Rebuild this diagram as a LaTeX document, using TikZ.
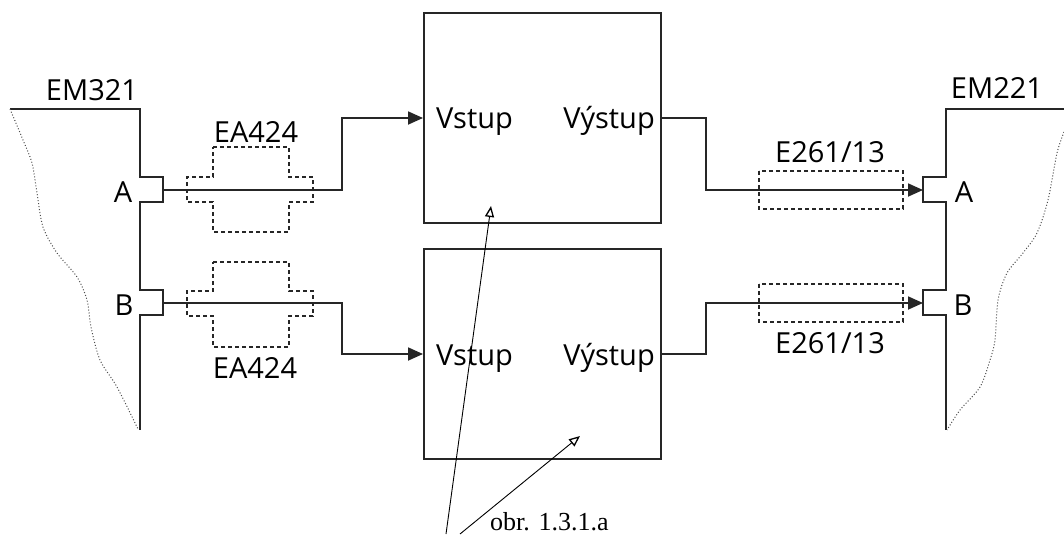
\documentclass[tikz,border=0pt]{standalone}
\usepackage{fontspec}
\setmainfont{Open Sans}
\newfontfamily\captionserif{Liberation Serif}
\usetikzlibrary{arrows.meta}
\tikzset{
  wire/.style={line width=1.8pt, black!85},
  sig/.style={line width=1.8pt, black!85, -{Triangle[length=15pt,width=13pt]}},
  cable/.style={line width=1.5pt, dash pattern=on 4pt off 3pt, black!85},
  edge/.style={dotted, line width=1pt, black!70},
  blockbox/.style={draw, line width=2pt, black!85, inner sep=0pt, minimum width=237pt, minimum height=210pt},
  lbl/.style={font=\fontsize{29}{31}\selectfont, inner sep=0pt, anchor=base},
  pointer/.style={line width=0.9pt, -{Triangle[open,length=11pt,width=9pt,line width=1.3pt]}}
}
\begin{document}
\begin{tikzpicture}[x=1pt,y=-1pt]
\useasboundingbox (0,0) rectangle (1064,535);
% blocks
\node[blockbox] (box1) at (542.5,118) {};
\node[blockbox] (box2) at (542.5,354) {};
\node[lbl, anchor=base west] (in1) at (436,128) {Vstup};
\node[lbl, anchor=base east] (out1) at (655,128) {Výstup};
\node[lbl, anchor=base west] (in2) at (436,365) {Vstup};
\node[lbl, anchor=base east] (out2) at (655,365) {Výstup};
% left device
\draw[wire] (10,109) -- (140,109) -- (140,177) -- (163,177) -- (163,202) -- (140,202)
  -- (140,290) -- (163,290) -- (163,315) -- (140,315) -- (140,430);
\draw[edge] plot[smooth] coordinates {(10,109) (23,140) (32,163) (37,193) (43,227) (57,253) (77,277) (87,300) (91,327) (100,360) (117,387) (138,429)};
\coordinate (LA) at (163,190);
\coordinate (LB) at (163,303);
\node[lbl] (em321) at (92,100) {EM321};
\node[lbl] (la) at (123,202) {A};
\node[lbl] (lb) at (124,315) {B};
% right device
\draw[wire] (1064,109) -- (946,109) -- (946,177) -- (923,177) -- (923,202) -- (946,202)
  -- (946,290) -- (923,290) -- (923,315) -- (946,315) -- (946,430);
\draw[edge] plot[smooth] coordinates {(1064,132) (1057,153) (1048,200) (1037,233) (1023,253) (1007,273) (998,300) (995,340) (990,360) (980,387) (960,410) (947,430)};
\coordinate (RA) at (923,190);
\coordinate (RB) at (923,303);
\node[lbl] (em221) at (997,98) {EM221};
\node[lbl] (ra) at (964,202) {A};
\node[lbl] (rb) at (963,315) {B};
% EA424 cables
\draw[cable] (213,147) -- (289,147) -- (289,177) -- (313,177) -- (313,202) -- (289,202) -- (289,232)
  -- (213,232) -- (213,202) -- (187,202) -- (187,177) -- (213,177) -- cycle;
\draw[cable] (213,262) -- (289,262) -- (289,291) -- (313,291) -- (313,316) -- (289,316) -- (289,347)
  -- (213,347) -- (213,316) -- (187,316) -- (187,291) -- (213,291) -- cycle;
\node[lbl] (ea1) at (256,142) {EA424};
\node[lbl] (ea2) at (255,378) {EA424};
% E261/13 cables
\draw[cable] (759,171) rectangle (903,209);
\draw[cable] (759,284) rectangle (903,322);
\node[lbl] (e1) at (830,162) {E261/13};
\node[lbl] (e2) at (830,353) {E261/13};
% signal lines
\draw[sig] (LA) -- (342,190) |- (box1.west);
\draw[sig] (LB) -- (342,303) |- (box2.west);
\draw[sig] (box1.east) -| (706,190) -- (RA);
\draw[sig] (box2.east) -| (706,303) -- (RB);
% caption
\node[inner sep=0pt, anchor=base west, font=\captionserif\fontsize{26}{28}\selectfont] (cap) at (490,530) {obr. 1.3.1.a};
\coordinate (p1s) at (446,534);
\coordinate (p1e) at (491,206);
\coordinate (p2s) at (460,534);
\coordinate (p2e) at (580,436);
\draw[pointer] (p1s) -- (p1e);
\draw[pointer] (p2s) -- (p2e);
\end{tikzpicture}
\end{document}
